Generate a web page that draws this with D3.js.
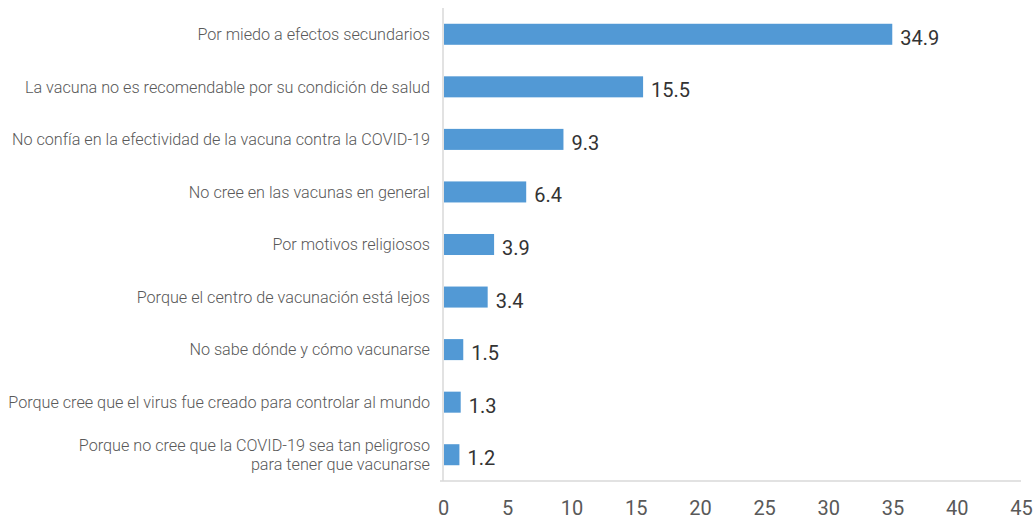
<!DOCTYPE html>
<html>
<head>
<meta charset="utf-8">
<script src="https://cdn.jsdelivr.net/npm/d3@7"></script>
<style>
  html, body { margin: 0; padding: 0; background: #fff; }
  svg { display: block; }
</style>
</head>
<body>
<svg id="chart" width="1035" height="521"></svg>
<script>
// Reasons for not getting vaccinated (%)
const categories = [
  "Por miedo a efectos secundarios",
  "La vacuna no es recomendable por su condición de salud",
  "No confía en la efectividad de la vacuna contra la COVID-19",
  "No cree en las vacunas en general",
  "Por motivos religiosos",
  "Porque el centro de vacunación está lejos",
  "No sabe dónde y cómo vacunarse",
  "Porque cree que el virus fue creado para controlar al mundo",
  "Porque no cree que la COVID-19 sea tan peligroso\npara tener que vacunarse"
];
const values = [34.9, 15.5, 9.3, 6.4, 3.9, 3.4, 1.5, 1.3, 1.2];
const xTicks = [0, 5, 10, 15, 20, 25, 30, 35, 40, 45];

const svg = d3.select("#chart");
const margin = { left: 443, right: 14, top: 8, bottom: 40 };
const W = 1035, H = 521;

const x = d3.scaleLinear().domain([0, 45]).range([margin.left, W - margin.right]);
const y = d3.scaleBand().domain(categories).range([margin.top, H - margin.bottom]).paddingInner(0.6).paddingOuter(0.3);

// axis lines
svg.append("line")
  .attr("x1", x(0)).attr("x2", x(0))
  .attr("y1", margin.top).attr("y2", H - margin.bottom)
  .attr("stroke", "#d9d9d9").attr("stroke-width", 1.5);
svg.append("line")
  .attr("x1", x(0) - 3).attr("x2", x(45))
  .attr("y1", H - margin.bottom).attr("y2", H - margin.bottom)
  .attr("stroke", "#d9d9d9").attr("stroke-width", 1.5);

// x tick labels
const xAxis = d3.axisBottom(x).tickValues(xTicks).tickSize(0).tickPadding(20);
const gx = svg.append("g").attr("transform", `translate(0,${H - margin.bottom})`).call(xAxis);
gx.select(".domain").remove();
gx.selectAll("text")
  .attr("font-family", "Roboto, sans-serif")
  .attr("font-size", 20)
  .attr("fill", "#595959");

// bars
svg.append("g").selectAll("rect")
  .data(values)
  .join("rect")
  .attr("x", x(0) + 1)
  .attr("y", (d, i) => y(categories[i]))
  .attr("width", d => x(d) - x(0))
  .attr("height", y.bandwidth())
  .attr("fill", "#5299d5");

// value labels
svg.append("g").selectAll("text")
  .data(values)
  .join("text")
  .attr("x", d => x(d) + 9)
  .attr("y", (d, i) => y(categories[i]) + y.bandwidth() / 2 + 10.5)
  .attr("font-family", "Roboto, sans-serif")
  .attr("font-size", 20)
  .attr("font-weight", 400)
  .attr("fill", "#333333")
  .text(d => d.toFixed(1));

// category labels
const cat = svg.append("g").selectAll("text")
  .data(categories)
  .join("text")
  .attr("text-anchor", "end")
  .attr("font-family", "Roboto, sans-serif")
  .attr("font-weight", 300)
  .attr("font-size", 16.2)
  .attr("fill", "#595959")
  .attr("transform", d => `translate(430,${y(d) + y.bandwidth() / 2})`);
cat.each(function(d) {
  const lines = d.split("\n");
  const t = d3.select(this);
  const lh = 19;
  const start = -(lines.length - 1) * lh / 2;
  lines.forEach((ln, k) => {
    t.append("tspan").attr("x", 0).attr("y", start + k * lh).attr("dy", "0.35em").text(ln);
  });
});
</script>
</body>
</html>
